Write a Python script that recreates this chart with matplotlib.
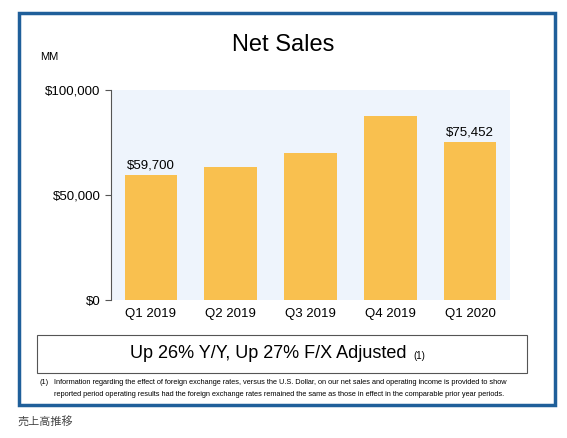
import matplotlib.pyplot as plt
from matplotlib.patches import Rectangle

plt.rcParams['font.family'] = ['Liberation Sans', 'DejaVu Sans']

quarters = ['Q1 2019', 'Q2 2019', 'Q3 2019', 'Q4 2019', 'Q1 2020']
net_sales = [59700, 63404, 69981, 87437, 75452]
labeled = {0: '$59,700', 4: '$75,452'}

fig = plt.figure(figsize=(5.67, 4.38), dpi=100)
fig.patches.append(Rectangle((19/567, 1-405/438), 536/567, 392/438, transform=fig.transFigure,
                             fill=False, edgecolor='#1f5f9a', linewidth=2.5))

ax = fig.add_axes([111/567, 1-300/438, 399/567, 210/438])
ax.set_facecolor('#eef4fc')
x = range(len(quarters))
ax.bar(x, net_sales, width=0.66, color='#f9c04f')
for i, txt in labeled.items():
    ax.text(i, net_sales[i] + 1500, txt, ha='center', va='bottom', fontsize=9.5)
ax.set_xlim(-0.5, len(quarters) - 0.5)
ax.set_ylim(0, 100000)
ax.set_yticks([0, 50000, 100000])
ax.set_yticklabels(['$0', '$50,000', '$100,000'], fontsize=9.5)
ax.set_xticks(list(x))
ax.set_xticklabels(quarters, fontsize=9.5)
ax.tick_params(axis='x', length=0, pad=6)
ax.tick_params(axis='y', length=4, color='#555555')
for s in ['top', 'right', 'bottom']:
    ax.spines[s].set_visible(False)
ax.spines['left'].set_color('#555555')

fig.text(0.5, 1-45/438, 'Net Sales', ha='center', va='center', fontsize=17)
fig.text(40/567, 1-57/438, 'MM', ha='left', va='center', fontsize=8)

fig.patches.append(Rectangle((37/567, 1-373/438), 490/567, 38/438, transform=fig.transFigure,
                             fill=False, edgecolor='#555555', linewidth=0.8))
fig.text(407/567, 1-354/438, 'Up 26% Y/Y, Up 27% F/X Adjusted', ha='right', va='center', fontsize=13)
fig.text(413/567, 1-356/438, '(1)', ha='left', va='center', fontsize=7)

fig.text(40/567, 1-383/438, '(1)', ha='left', va='center', fontsize=5.3)
fig.text(54/567, 1-383/438, 'Information regarding the effect of foreign exchange rates, versus the U.S. Dollar, on our net sales and operating income is provided to show',
         ha='left', va='center', fontsize=5.3)
fig.text(54/567, 1-395/438, 'reported period operating results had the foreign exchange rates remained the same as those in effect in the comparable prior year periods.',
         ha='left', va='center', fontsize=5.3)
fig.text(17/567, 1-421/438, '売上高推移', ha='left', va='center', fontsize=8, color='#444444',
         family=['Noto Sans CJK JP', 'DejaVu Sans'])

fig.savefig('out.png', dpi=100)
